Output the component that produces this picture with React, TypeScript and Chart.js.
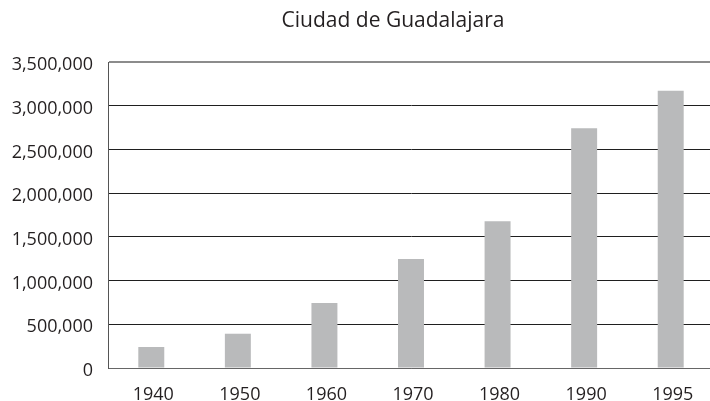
import React, { useEffect, useRef } from "react";
import { Chart, registerables } from "chart.js";

Chart.register(...registerables);

const TITLE = "Ciudad de Guadalajara";
const YEARS = ["1940", "1950", "1960", "1970", "1980", "1990", "1995"];
const POPULATION = [240000, 392000, 743000, 1247000, 1678000, 2742000, 3172000];
const Y_MIN = 0;
const Y_MAX = 3500000;
const Y_STEP = 500000;

const FONT = "'Open Sans', 'Noto Sans', sans-serif";
const TEXT_COLOR = "#231f20";

const titlePlugin = {
  id: "customTitle",
  afterDraw(chart: any) {
    const ctx = chart.ctx;
    ctx.save();
    ctx.font = `21px ${FONT}`;
    ctx.fillStyle = TEXT_COLOR;
    ctx.textAlign = "center";
    ctx.textBaseline = "middle";
    ctx.fillText(TITLE, 393, 21);
    ctx.restore();
  },
};

export default function App() {
  const ref = useRef<HTMLCanvasElement | null>(null);

  useEffect(() => {
    if (!ref.current) return;
    const chart = new Chart(ref.current, {
      type: "bar",
      data: {
        labels: YEARS,
        datasets: [
          {
            data: POPULATION,
            backgroundColor: "#b9babb",
            borderWidth: 0,
            barPercentage: 0.3,
            categoryPercentage: 1,
          },
        ],
      },
      options: {
        animation: false,
        responsive: false,
        maintainAspectRatio: false,
        layout: { padding: { top: 62, left: 0, right: 0, bottom: 0 } },
        plugins: {
          legend: { display: false },
          title: { display: false },
          tooltip: { enabled: false },
        },
        scales: {
          x: {
            offset: true,
            grid: { display: false, drawTicks: false },
            border: { display: true, color: "#666666", width: 1 },
            ticks: {
              color: TEXT_COLOR,
              font: { family: FONT, size: 18 },
              padding: 16,
              labelOffset: 2,
              maxRotation: 0,
            },
            afterFit(scale: any) {
              scale.height = 33;
            },
          },
          y: {
            min: Y_MIN,
            max: Y_MAX,
            grid: {
              drawTicks: false,
              color: (c: any) =>
                c.tick && c.tick.value === Y_MAX ? "#8c8c8c" : c.tick && c.tick.value === Y_MIN ? "#666666" : "#1f1f1f",
              lineWidth: (c: any) => (c.tick && c.tick.value === Y_MAX ? 2 : 1),
            },
            border: { display: true, color: "#555555", width: 1 },
            ticks: {
              stepSize: Y_STEP,
              color: TEXT_COLOR,
              font: { family: FONT, size: 18 },
              padding: 15,
              labelOffset: 3,
              callback: (v: any) => Number(v).toLocaleString("en-US"),
            },
            afterFit(scale: any) {
              scale.width = 108;
            },
          },
        },
      },
      plugins: [titlePlugin],
    });
    return () => chart.destroy();
  }, []);

  return (
    <div
      style={{
        position: "absolute",
        left: 0,
        top: 0,
        width: 710,
        height: 401,
        overflow: "hidden",
        background: "#ffffff",
      }}
    >
      <canvas ref={ref} width={714} height={401} style={{ display: "block", width: 714, height: 401 }} />
    </div>
  );
}
